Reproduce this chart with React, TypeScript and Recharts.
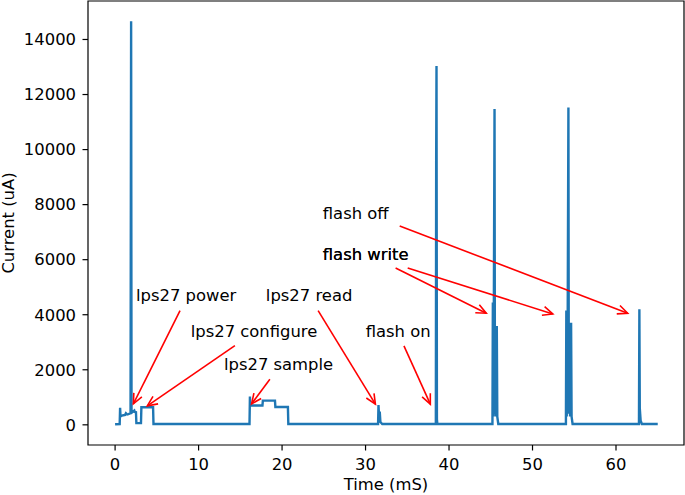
import React from 'react';
import {
  LineChart,
  Line,
  XAxis,
  YAxis,
  ReferenceLine,
  ReferenceDot,
  ReferenceArea,
} from 'recharts';

// power trace
const timeMs = [
  0, 0.55, 0.6, 0.65, 0.75, 1.0, 1.2, 1.3, 1.45, 1.6, 1.85, 1.92, 1.97, 2.02, 2.3, 2.35, 2.5, 2.55, 3.1, 3.15, 4.55, 4.6,
  16.1, 16.15, 16.2, 17.65, 17.7, 19.15, 19.2, 20.7, 20.75,
  31.5, 31.55, 31.62, 31.7, 31.78, 32.0,
  38.42, 38.46, 38.5, 38.55, 38.6,
  45.2, 45.25, 45.3, 45.35, 45.45, 45.5, 45.55, 45.6, 45.65, 45.72, 45.78, 45.9,
  54.0, 54.05, 54.1, 54.2, 54.3, 54.35, 54.45, 54.5, 54.62, 54.68, 54.8,
  62.75, 62.8, 62.85, 62.95, 63.1, 65.0,
];
const currentUa = [
  20, 30, 620, 300, 330, 350, 360, 420, 380, 390, 420, 14665, 500, 450, 520, 470, 460, 60, 60, 640, 640, 30,
  30, 1030, 700, 700, 880, 880, 650, 650, 30,
  30, 720, 300, 480, 100, 30,
  30, 9600, 13040, 200, 30,
  30, 4440, 300, 2800, 11470, 400, 2400, 300, 1500, 3590, 300, 30,
  30, 4150, 300, 2600, 11530, 400, 2200, 300, 3710, 300, 30,
  30, 4200, 600, 150, 30, 30,
];

const xTicks = [0, 10, 20, 30, 40, 50, 60];
const yTicks = [0, 2000, 4000, 6000, 8000, 10000, 12000, 14000];

// annotations: text anchor and arrow (from -> to), in data units
const annoText = ['lps27 power', 'lps27 configure', 'lps27 sample', 'lps27 read', 'flash on', 'flash write', 'flash write', 'flash off'];
const textX = [2.51, 9.06, 13.04, 18.06, 30.02, 24.88, 24.88, 24.88];
const textY = [4693, 3387, 2178, 4693, 3387, 6171, 6171, 7695];
const fromX = [7.78, 14.35, 18.54, 24.32, 34.6, 33.6, 35.05, 34.09];
const fromY = [4149, 2878, 1659, 4149, 2868, 5699, 5699, 7223];
const toX = [2.19, 3.86, 16.35, 31.18, 37.76, 44.46, 52.43, 61.4];
const toY = [762, 690, 762, 751, 751, 4054, 4029, 4054];

const xDomain = [-3.245, 68.145];
const yDomain = [-733, 15398];

const data = timeMs.map((t, i) => ({ t, i: currentUa[i] }));

const font = 'DejaVu Sans';
const fs = 16.4;

const Arrow = (props: any) => {
  const { x1, y1, x2, y2 } = props;
  const ang = Math.atan2(y2 - y1, x2 - x1);
  const len = 10;
  const half = 4.5;
  const bx = x2 - len * Math.cos(ang);
  const by = y2 - len * Math.sin(ang);
  const px = -Math.sin(ang) * half;
  const py = Math.cos(ang) * half;
  return (
    <g>
      <line x1={x1} y1={y1} x2={x2} y2={y2} stroke="#ff0000" strokeWidth={1.6} />
      <polyline
        points={`${bx + px},${by + py} ${x2},${y2} ${bx - px},${by - py}`}
        fill="none"
        stroke="#ff0000"
        strokeWidth={1.6}
      />
    </g>
  );
};

const textShape = (label: string) => (props: any) => (
  <text
    x={props.cx}
    y={props.cy}
    dominantBaseline="central"
    fontSize={fs}
    fontFamily={font}
    fill="#000"
  >
    {label}
  </text>
);

export default function App() {
  return (
    <div style={{ position: 'fixed', left: 0, top: 0, background: '#fff' }}>
      <LineChart
        width={685}
        height={495}
        data={data}
        margin={{ top: 1, right: 1, left: 8, bottom: 0 }}
      >
        <XAxis
          dataKey="t"
          type="number"
          domain={xDomain}
          allowDataOverflow
          ticks={xTicks}
          height={50}
          axisLine={false}
          tickLine={{ stroke: '#000', strokeWidth: 1.2 }}
          tickSize={5.5}
          tickMargin={8}
          tick={{ fill: '#000', fontSize: fs, fontFamily: font }}
          label={{
            value: 'Time (mS)',
            position: 'insideBottom',
            offset: 5,
            fill: '#000',
            fontSize: fs,
            fontFamily: font,
          }}
        />
        <YAxis
          type="number"
          domain={yDomain}
          allowDataOverflow
          ticks={yTicks}
          width={80}
          axisLine={false}
          tickLine={{ stroke: '#000', strokeWidth: 1.2 }}
          tickSize={5.5}
          tickMargin={6.5}
          tick={{ fill: '#000', fontSize: fs, fontFamily: font }}
          label={{
            value: 'Current (uA)',
            angle: -90,
            position: 'insideLeft',
            dx: -5,
            fill: '#000',
            fontSize: fs,
            fontFamily: font,
            style: { textAnchor: 'middle' },
          }}
        />
        <ReferenceArea
          x1={xDomain[0]}
          x2={xDomain[1]}
          y1={yDomain[0]}
          y2={yDomain[1]}
          fill="none"
          stroke="#000"
          strokeWidth={1.2}
          ifOverflow="visible"
        />
        <Line
          dataKey="i"
          type="linear"
          stroke="#1f77b4"
          strokeWidth={2.4}
          dot={false}
          activeDot={false}
          isAnimationActive={false}
        />
        {annoText.map((label, k) => (
          <ReferenceLine
            key={`a${k}`}
            segment={[
              { x: fromX[k], y: fromY[k] },
              { x: toX[k], y: toY[k] },
            ]}
            shape={Arrow}
            ifOverflow="visible"
          />
        ))}
        {annoText.map((label, k) => (
          <ReferenceDot
            key={`t${k}`}
            x={textX[k]}
            y={textY[k]}
            r={0}
            shape={textShape(label)}
            ifOverflow="visible"
          />
        ))}
      </LineChart>
    </div>
  );
}
